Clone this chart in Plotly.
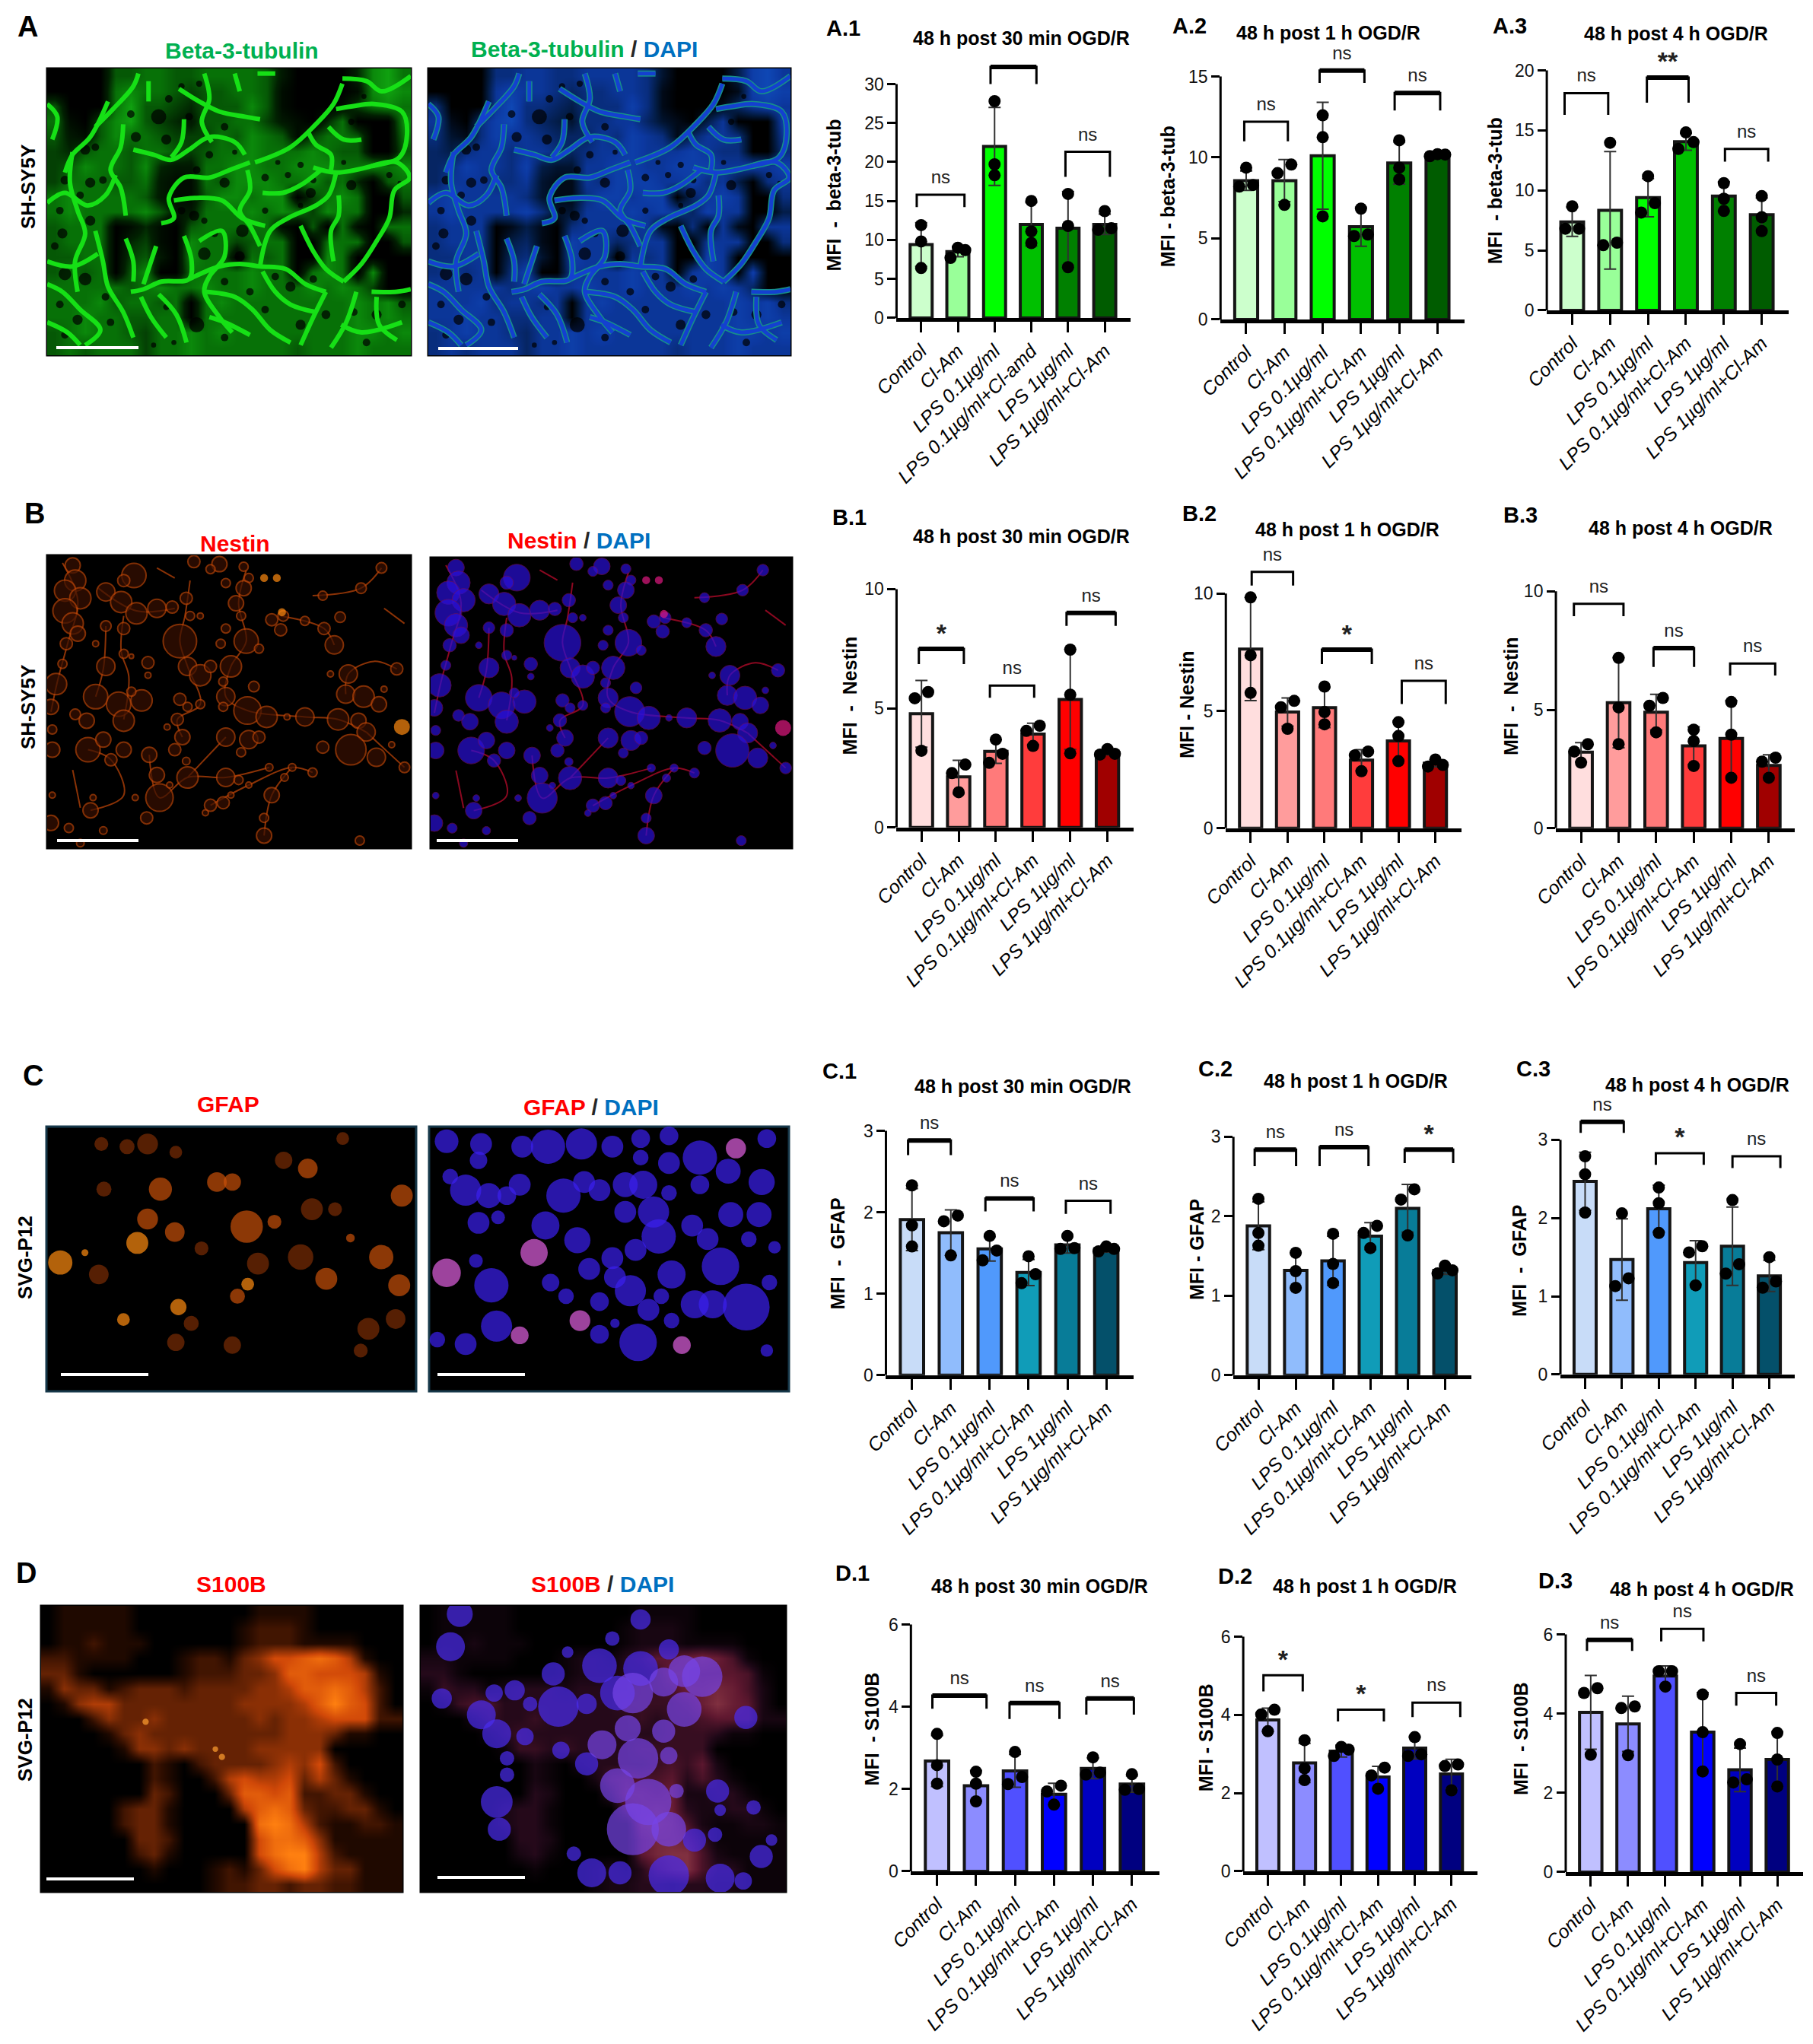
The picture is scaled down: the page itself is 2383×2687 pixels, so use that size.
import plotly.graph_objects as go

W, H = 2383, 2687
FONT = "Liberation Sans"
HEADROOM = 1.25

CATEGORIES = ["Control", "Cl-Am", "LPS 0.1µg/ml", "LPS 0.1µg/ml+Cl-Am", "LPS 1µg/ml", "LPS 1µg/ml+Cl-Am"]
CATEGORIES_A1 = ["Control", "Cl-Am", "LPS 0.1µg/ml", "LPS 0.1µg/ml+Cl-amd", "LPS 1µg/ml", "LPS 1µg/ml+Cl-Am"]

# values: mean, sd, the three replicates of each group
A1_MEAN = [9.4, 8.5, 22.0, 12.0, 11.5, 12.0]
A1_SD = [2.8, 0.65, 5.0, 2.8, 4.7, 1.3]
A1_POINTS = [[11.9, 9.8, 6.4], [9.0, 8.7, 7.7], [27.8, 19.7, 18.3], [15.0, 11.1, 9.6], [15.9, 11.8, 6.5], [13.7, 11.5, 11.3]]
A2_MEAN = [8.57, 8.57, 10.1, 5.72, 9.66, 10.14]
A2_SD = [0.6, 1.3, 3.3, 1.2, 1.3, 0.1]
A2_POINTS = [[9.37, 8.3, 8.2], [9.56, 9.03, 7.07], [12.6, 11.25, 6.36], [6.84, 5.24, 5.15], [11.06, 9.37, 8.64], [10.18, 10.2, 10.08]]
A3_MEAN = [7.37, 8.33, 9.39, 14.05, 9.52, 7.97]
A3_SD = [1.2, 4.9, 1.6, 0.7, 1.2, 1.4]
A3_POINTS = [[8.67, 6.8, 6.8], [13.97, 5.64, 5.43], [11.18, 8.93, 8.15], [14.83, 14.02, 13.45], [10.6, 9.3, 8.28], [9.52, 7.76, 6.6]]

B1_MEAN = [4.77, 2.12, 3.19, 3.92, 5.37, 3.15]
B1_SD = [1.4, 0.7, 0.5, 0.45, 2.1, 0.1]
B1_POINTS = [[5.68, 5.42, 3.22], [2.64, 2.28, 1.48], [3.69, 3.09, 2.71], [4.27, 4.05, 3.42], [7.46, 5.57, 3.11], [3.29, 3.09, 3.06]]
B2_MEAN = [7.64, 4.95, 5.14, 2.9, 3.72, 2.77]
B2_SD = [2.2, 0.6, 0.85, 0.45, 0.85, 0.15]
B2_POINTS = [[9.84, 7.37, 5.77], [5.43, 5.16, 4.24], [6.04, 4.95, 4.43], [3.27, 3.11, 2.43], [4.52, 3.93, 2.86], [2.93, 2.7, 2.63]]
B3_MEAN = [3.21, 5.3, 4.9, 3.48, 3.79, 2.65]
B3_SD = [0.4, 1.9, 0.75, 0.8, 1.6, 0.45]
B3_POINTS = [[3.55, 3.24, 2.77], [7.19, 5.1, 3.55], [5.5, 5.17, 4.05], [4.16, 3.68, 2.63], [5.33, 3.95, 2.13], [2.98, 2.81, 2.13]]

C1_MEAN = [1.91, 1.75, 1.55, 1.26, 1.6, 1.55]
C1_SD = [0.38, 0.28, 0.15, 0.16, 0.1, 0.04]
C1_POINTS = [[2.33, 1.84, 1.58], [1.96, 1.89, 1.47], [1.71, 1.53, 1.41], [1.46, 1.24, 1.13], [1.71, 1.56, 1.55], [1.58, 1.55, 1.52]]
C2_MEAN = [1.88, 1.32, 1.44, 1.75, 2.1, 1.32]
C2_SD = [0.3, 0.22, 0.31, 0.17, 0.3, 0.05]
C2_POINTS = [[2.22, 1.79, 1.63], [1.54, 1.31, 1.1], [1.78, 1.4, 1.16], [1.88, 1.79, 1.6], [2.34, 2.21, 1.76], [1.38, 1.32, 1.28]]
C3_MEAN = [2.47, 1.47, 2.12, 1.43, 1.64, 1.26]
C3_SD = [0.37, 0.52, 0.3, 0.28, 0.5, 0.2]
C3_POINTS = [[2.79, 2.56, 2.07], [2.06, 1.23, 1.13], [2.39, 2.19, 1.81], [1.64, 1.56, 1.14], [2.23, 1.41, 1.29], [1.5, 1.19, 1.11]]

D1_MEAN = [2.68, 2.08, 2.44, 1.87, 2.5, 2.12]
D1_SD = [0.62, 0.37, 0.4, 0.27, 0.25, 0.2]
D1_POINTS = [[3.34, 2.58, 2.13], [2.42, 2.13, 1.7], [2.9, 2.29, 2.12], [2.08, 1.94, 1.62], [2.77, 2.4, 2.35], [2.36, 2.0, 1.98]]
D2_MEAN = [3.87, 2.77, 3.07, 2.41, 3.15, 2.49]
D2_SD = [0.3, 0.5, 0.15, 0.27, 0.28, 0.37]
D2_POINTS = [[4.13, 4.01, 3.58], [3.35, 2.63, 2.33], [3.18, 3.11, 2.95], [2.65, 2.45, 2.11], [3.43, 2.99, 2.95], [2.73, 2.69, 2.07]]
D3_MEAN = [4.03, 3.74, 4.95, 3.53, 2.58, 2.84]
D3_SD = [0.93, 0.7, 0.25, 1.0, 0.55, 0.7]
D3_POINTS = [[4.64, 4.52, 2.96], [4.18, 4.14, 2.95], [5.07, 5.07, 4.68], [4.48, 3.53, 2.54], [3.23, 2.34, 2.26], [3.51, 2.84, 2.16]]

# significance brackets: left, right, top, foot, label, heavy top line
A1_BRACKETS = [(-0.12, 1.18, 15.8, 14.2, "ns", 0), (1.89, 3.14, 32.2, 30.0, "", 1), (3.93, 5.14, 21.3, 18.1, "ns", 0)]
A2_BRACKETS = [(-0.05, 1.09, 12.2, 11.0, "ns", 0), (1.92, 3.09, 15.36, 14.6, "ns", 1), (3.88, 5.07, 13.98, 12.9, "ns", 1)]
A3_BRACKETS = [(-0.2, 0.95, 18.1, 16.3, "ns", 0), (1.97, 3.07, 19.4, 17.3, "**", 1), (4.03, 5.17, 13.45, 12.4, "ns", 0)]
B1_BRACKETS = [(-0.07, 1.14, 7.49, 6.85, "*", 1), (1.84, 3.03, 5.95, 5.44, "ns", 0), (3.9, 5.22, 9.0, 8.46, "ns", 1)]
B2_BRACKETS = [(0.03, 1.15, 10.93, 10.34, "ns", 0), (1.93, 3.28, 7.61, 7.0, "*", 1), (4.09, 5.28, 6.28, 5.29, "ns", 0)]
B3_BRACKETS = [(-0.19, 1.13, 9.47, 8.95, "ns", 0), (1.93, 3.01, 7.6, 6.81, "ns", 1), (3.97, 5.17, 6.95, 6.45, "ns", 0)]
C1_BRACKETS = [(-0.1, 1.0, 2.88, 2.7, "ns", 1), (1.89, 3.13, 2.17, 2.01, "ns", 1), (3.96, 5.11, 2.14, 1.98, "ns", 0)]
C2_BRACKETS = [(-0.1, 1.01, 2.84, 2.63, "ns", 1), (1.64, 2.95, 2.87, 2.63, "ns", 1), (3.92, 5.22, 2.84, 2.67, "*", 1)]
C3_BRACKETS = [(-0.12, 1.05, 3.23, 3.09, "ns", 1), (1.92, 3.22, 2.83, 2.68, "*", 0), (4.0, 5.3, 2.79, 2.64, "ns", 0)]
D1_BRACKETS = [(-0.12, 1.27, 4.27, 3.95, "ns", 1), (1.86, 3.14, 4.09, 3.7, "ns", 1), (3.83, 5.05, 4.2, 3.81, "ns", 1)]
D2_BRACKETS = [(-0.12, 0.95, 5.01, 4.6, "*", 0), (1.91, 3.16, 4.13, 3.83, "*", 0), (3.94, 5.24, 4.31, 3.94, "ns", 0)]
D3_BRACKETS = [(-0.1, 1.11, 5.86, 5.58, "ns", 1), (1.89, 3.02, 6.14, 5.82, "ns", 0), (3.9, 4.97, 4.52, 4.2, "ns", 0)]

GREENS = ["#ccffcc", "#99ff99", "#00ff00", "#00c000", "#008000", "#005c00"]
REDS = ["#ffdede", "#ff9c9c", "#ff7a7a", "#ff3c3c", "#ff0000", "#a00000"]
TEALS = ["#c8dcf8", "#90bcfc", "#5099fc", "#109cb8", "#087c98", "#04506a"]
BLUES = ["#c0c0ff", "#8c8cff", "#5050ff", "#0000ff", "#0000c0", "#000080"]

# tag, title, y title, ymax, dtick, axis box in page px (left, right, top, bottom),
# tag xy, title xy, y title xy
PANELS = [
    ("A.1", "48 h post 30 min OGD/R", "MFI\u00a0\u00a0-\u00a0\u00a0beta-3-tub", 30, 5, (1179, 1488, 111, 420), (1109, 37), (1344, 50), (1096, 258), A1_MEAN, A1_SD, A1_POINTS, A1_BRACKETS, GREENS, CATEGORIES_A1),
    ("A.2", "48 h post 1 h OGD/R", "MFI - beta-3-tub", 15, 5, (1607, 1929, 101, 422), (1566, 34), (1749, 43), (1537, 260), A2_MEAN, A2_SD, A2_POINTS, A2_BRACKETS, GREENS, CATEGORIES),
    ("A.3", "48 h post 4 h OGD/R", "MFI\u00a0\u00a0-\u00a0beta-3-tub", 20, 5, (2038, 2357, 93, 410), (1989, 34), (2209, 44), (1969, 252), A3_MEAN, A3_SD, A3_POINTS, A3_BRACKETS, GREENS, CATEGORIES),
    ("B.1", "48 h post 30 min OGD/R", "MFI\u00a0\u00a0-\u00a0\u00a0Nestin", 10, 5, (1179, 1492, 775, 1090), (1117, 680), (1344, 705), (1117, 916), B1_MEAN, B1_SD, B1_POINTS, B1_BRACKETS, REDS, CATEGORIES),
    ("B.2", "48 h post 1 h OGD/R", "MFI - Nestin", 10, 5, (1614, 1925, 781, 1091), (1579, 675), (1775, 696), (1562, 927), B2_MEAN, B2_SD, B2_POINTS, B2_BRACKETS, REDS, CATEGORIES),
    ("B.3", "48 h post 4 h OGD/R", "MFI\u00a0\u00a0-\u00a0\u00a0Nestin", 10, 5, (2050, 2366, 778, 1091), (2003, 677), (2215, 694), (1990, 916), B3_MEAN, B3_SD, B3_POINTS, B3_BRACKETS, REDS, CATEGORIES),
    ("C.1", "48 h post 30 min OGD/R", "MFI\u00a0\u00a0-\u00a0\u00a0GFAP", 3, 1, (1165, 1492, 1487, 1810), (1104, 1408), (1346, 1428), (1101, 1649), C1_MEAN, C1_SD, C1_POINTS, C1_BRACKETS, TEALS, CATEGORIES),
    ("C.2", "48 h post 1 h OGD/R", "MFI - GFAP", 3, 1, (1624, 1938, 1495, 1810), (1600, 1405), (1786, 1421), (1575, 1644), C2_MEAN, C2_SD, C2_POINTS, C2_BRACKETS, TEALS, CATEGORIES),
    ("C.3", "48 h post 4 h OGD/R", "MFI\u00a0\u00a0-\u00a0\u00a0GFAP", 3, 1, (2056, 2366, 1499, 1809), (2020, 1405), (2237, 1426), (2001, 1659), C3_MEAN, C3_SD, C3_POINTS, C3_BRACKETS, TEALS, CATEGORIES),
    ("D.1", "48 h post 30 min OGD/R", "MFI\u00a0\u00a0-\u00a0S100B", 6, 2, (1198, 1526, 2136, 2462), (1121, 2068), (1368, 2085), (1146, 2274), D1_MEAN, D1_SD, D1_POINTS, D1_BRACKETS, BLUES, CATEGORIES),
    ("D.2", "48 h post 1 h OGD/R", "MFI - S100B", 6, 2, (1637, 1946, 2152, 2462), (1626, 2072), (1798, 2085), (1587, 2285), D2_MEAN, D2_SD, D2_POINTS, D2_BRACKETS, BLUES, CATEGORIES),
    ("D.3", "48 h post 4 h OGD/R", "MFI\u00a0\u00a0-\u00a0S100B", 6, 2, (2063, 2377, 2149, 2463), (2049, 2078), (2243, 2089), (2003, 2287), D3_MEAN, D3_SD, D3_POINTS, D3_BRACKETS, BLUES, CATEGORIES),
]
ROW_TOPS = {"A": 0, "B": 650, "C": 1380, "D": 2040}

# micrograph stand-ins: coarse brightness maps, 0-9, typed from the picture
A_MAP = [
    "000055665566665200003786",
    "000067665455665100001787",
    "500068554355575100014676",
    "610578543255664210360007",
    "521576654446576514665006",
    "435665665456676667655005",
    "457665732266776677766767",
    "466655621165777667563056",
    "676666521157767704676005",
    "676666752266676764766003",
    "566601310566666105061066",
    "566603410766456600666005",
    "556604520766065600760000",
    "565605700666676606760700",
    "666665676676676667676400",
    "666756656067666666667675",
    "667665566066666666667676",
    "567665466767666666667767",
    "565666466766666656667666",
]
D_MAP = [
    "011111000000001111000000",
    "011111000000012221000000",
    "011211100000012221111000",
    "221111000122134667875100",
    "331000000122233477666510",
    "143312333233334457787520",
    "014553333333344445797620",
    "000243343333334344566622",
    "000013433333333344431100",
    "000001443433334444400000",
    "000000021023333454620000",
    "000000021002565563531000",
    "000000032000377672233100",
    "000002331000057873223310",
    "000002331000008985211221",
    "000000332000006887411111",
    "000000231000006899521111",
    "000000010001213689533111",
    "000000000001223323322111",
]

# strands of the cell network, polylines in crop coordinates of the A pictures
A_STRANDS = [
    [(190, 230), (260, 160), (340, 70), (360, 20)],
    [(240, 130), (170, 270), (100, 340), (70, 410)],
    [(0, 140), (40, 190), (20, 280)],
    [(1165, 60), (1130, 140), (1060, 220), (960, 310), (820, 370)],
    [(1165, 40), (1260, 50), (1320, 90), (1435, 30)],
    [(1140, 160), (1200, 150), (1290, 140), (1400, 170), (1420, 260), (1390, 350), (1280, 385), (1140, 410), (1050, 390)],
    [(1110, 230), (1170, 280), (1240, 280)],
    [(1280, 385), (1380, 370), (1430, 430), (1370, 480), (1350, 590), (1300, 680), (1240, 770), (1170, 840)],
    [(1140, 410), (1110, 500), (1060, 540), (950, 590), (880, 640), (840, 780)],
    [(1080, 400), (1000, 460), (930, 490), (850, 490)],
    [(1000, 620), (1050, 720), (1100, 790), (1170, 840)],
    [(1150, 500), (1150, 580), (1120, 640), (1130, 760)],
    [(800, 370), (720, 400), (640, 430), (540, 430), (480, 510), (500, 590), (450, 610)],
    [(340, 320), (420, 340), (490, 360), (560, 320), (640, 270), (740, 290), (780, 340)],
    [(520, 80), (600, 130), (680, 170), (780, 190), (840, 200)],
    [(740, 20), (760, 90)],
    [(830, 20), (900, 20)],
    [(400, 50), (400, 130)],
    [(540, 200), (530, 290), (490, 350)],
    [(620, 20), (640, 120), (610, 210), (650, 290)],
    [(300, 220), (290, 310), (250, 400), (290, 470), (310, 580)],
    [(0, 530), (70, 490), (160, 540), (230, 500), (270, 420)],
    [(100, 330), (90, 450), (120, 560), (150, 650), (110, 760), (120, 880)],
    [(190, 640), (220, 760), (240, 860), (300, 960), (340, 1060)],
    [(0, 760), (100, 780), (200, 730)],
    [(0, 850), (60, 880), (130, 950), (210, 1030), (150, 1090)],
    [(540, 660), (570, 760), (560, 830), (450, 840), (380, 870), (330, 880)],
    [(310, 670), (340, 760), (340, 840)],
    [(430, 700), (400, 790), (380, 850)],
    [(600, 680), (690, 640), (700, 740), (640, 820), (620, 880), (680, 980), (730, 1040)],
    [(500, 520), (590, 510), (690, 520), (770, 590), (860, 620)],
    [(790, 400), (800, 480), (760, 560), (800, 620), (840, 700)],
    [(560, 830), (680, 780), (760, 770), (840, 780), (940, 790), (1020, 850), (1100, 880)],
    [(440, 890), (510, 970), (550, 1080)],
    [(620, 880), (740, 900), (810, 950), (880, 1030), (960, 1080)],
    [(1100, 880), (1050, 980), (1000, 1090)],
    [(1220, 880), (1180, 1000), (1120, 1100)],
    [(1280, 880), (1380, 880), (1435, 870)],
    [(1300, 900), (1310, 1010), (1380, 1070)],
    [(1160, 1010), (1240, 1040), (1400, 1000)],
    [(850, 800), (900, 880), (960, 930), (1060, 960)],
    [(640, 980), (700, 1000), (800, 1050)],
    [(370, 900), (410, 980), (470, 1060)],
    [(0, 1000), (80, 1040), (130, 1090)],
    [(1120, 400), (1120, 340), (1060, 300), (1030, 250)],
]
# small dark gaps in the mesh
A_GAPS = [
    (150, 320, 40), (190, 310, 30), (70, 440, 35), (170, 450, 40), (130, 500, 30), (220, 440, 30), (50, 560, 30), (170, 600, 40),
    (60, 650, 40), (30, 700, 30), (70, 810, 50), (150, 830, 50), (50, 930, 30), (120, 990, 40), (70, 1050, 30), (250, 1000, 30),
    (330, 180, 30), (440, 190, 60), (350, 270, 40), (470, 280, 40), (560, 190, 30), (700, 230, 30), (640, 340, 30), (740, 330, 20),
    (590, 400, 30), (700, 450, 40), (580, 580, 40), (530, 560, 30), (620, 600, 25), (770, 640, 50), (660, 650, 30), (620, 730, 50),
    (760, 740, 40), (700, 840, 30), (800, 880, 30), (900, 820, 30), (960, 860, 40), (1050, 830, 30), (860, 950, 30), (1000, 1010, 40),
    (1100, 970, 35), (1210, 960, 30), (1300, 970, 40), (1400, 930, 30), (1260, 1080, 30), (700, 1060, 30), (590, 1010, 60), (470, 940, 25),
    (500, 1080, 20), (420, 1090, 20), (230, 900, 30), (1040, 490, 40), (860, 430, 30), (950, 420, 25), (1050, 440, 25), (1200, 460, 40),
    (1170, 370, 20), (1200, 210, 25), (1250, 110, 20), (1350, 420, 25), (1390, 450, 15), (1000, 380, 25), (910, 370, 20), (860, 560, 25),
    (1000, 540, 20), (530, 70, 25), (600, 60, 25), (480, 120, 30),
]
B_STRANDS = [
    [(60, 30), (120, 180), (80, 350), (40, 500), (15, 620)],
    [(200, 130), (350, 220), (500, 210)],
    [(300, 240), (290, 380), (320, 480), (300, 650)],
    [(230, 280), (220, 450), (190, 560)],
    [(560, 100), (540, 240), (520, 340), (550, 440), (600, 590), (510, 650), (530, 720)],
    [(780, 60), (750, 190), (780, 340), (720, 440), (700, 560), (785, 615), (1010, 640), (1140, 650), (1250, 700)],
    [(915, 240), (1085, 290), (1125, 355)],
    [(1170, 550), (1180, 470), (1280, 420), (1370, 450)],
    [(400, 790), (440, 960), (550, 880), (700, 880), (870, 840)],
    [(160, 770), (250, 810), (300, 950), (170, 1010)],
    [(700, 720), (550, 880)],
    [(640, 990), (790, 910), (960, 840), (1040, 860)],
    [(960, 840), (880, 950), (850, 1110)],
    [(1250, 700), (1400, 840)],
    [(1040, 160), (1230, 130), (1310, 50)],
    [(1320, 210), (1400, 270)],
    [(100, 850), (130, 1000)],
    [(430, 50), (500, 90)],
]

# cell bodies: x, y, diameter, in crop coordinates
B_CELLS = [
    (100, 40, 50), (110, 100, 70), (70, 140, 70), (130, 170, 70), (70, 220, 80), (100, 270, 70), (120, 310, 50), (75, 350, 40),
    (60, 430, 30), (35, 510, 70), (15, 600, 50), (20, 690, 30), (20, 770, 50), (340, 80, 80), (300, 100, 40), (230, 145, 60),
    (290, 185, 70), (350, 230, 70), (430, 210, 60), (490, 205, 40), (545, 170, 40), (575, 25, 40), (675, 35, 50), (640, 55, 30),
    (770, 45, 30), (790, 90, 30), (700, 110, 30), (770, 130, 50), (740, 190, 50), (760, 240, 30), (925, 240, 35), (880, 255, 40),
    (915, 295, 40), (1010, 260, 30), (1085, 290, 40), (1125, 355, 60), (1148, 245, 35), (1230, 130, 35), (1080, 160, 30),
    (1310, 50, 35), (520, 340, 110), (300, 290, 40), (230, 280, 35), (190, 350, 20), (300, 390, 30), (230, 440, 60), (395, 425, 40),
    (395, 475, 20), (550, 440, 60), (600, 475, 70), (640, 440, 40), (720, 440, 70), (690, 500, 30), (810, 520, 35), (700, 560, 60),
    (690, 600, 30), (780, 340, 80), (830, 370, 30), (680, 350, 30), (700, 290, 30), (560, 240, 30), (600, 240, 20), (330, 400, 15),
    (190, 560, 80), (280, 590, 80), (370, 575, 70), (330, 540, 30), (300, 655, 70), (110, 630, 35), (155, 655, 50), (520, 570, 40),
    (600, 590, 30), (550, 600, 30), (510, 650, 40), (470, 680, 20), (785, 615, 90), (860, 640, 70), (1010, 640, 60), (940, 640, 20),
    (1140, 650, 70), (1220, 655, 50), (1180, 470, 60), (1110, 470, 20), (1170, 550, 60), (1240, 560, 70), (1300, 590, 50),
    (1320, 530, 20), (1370, 450, 40), (1250, 700, 60), (1190, 770, 100), (1290, 800, 60), (1080, 760, 40), (1350, 750, 20),
    (1400, 840, 35), (1040, 860, 30), (960, 840, 25), (160, 770, 80), (220, 730, 50), (250, 810, 40), (300, 770, 50), (400, 790, 50),
    (430, 870, 50), (440, 960, 90), (530, 720, 50), (500, 770, 40), (700, 720, 60), (790, 730, 60), (830, 720, 40), (760, 780, 30),
    (550, 880, 70), (480, 910, 20), (545, 815, 25), (700, 880, 60), (750, 890, 30), (790, 910, 20), (870, 840, 25), (640, 990, 40),
    (690, 980, 40), (720, 950, 20), (170, 1010, 50), (180, 960, 20), (15, 1060, 50), (85, 1080, 30), (390, 1040, 40), (345, 960, 20),
    (880, 950, 50), (930, 880, 25), (850, 1040, 30), (850, 1110, 50), (1225, 1130, 30), (20, 950, 20), (130, 1140, 25), (220, 1090, 25),
    (620, 1020, 20),
]
B_HOT_CELLS = [(850, 90, 35), (900, 90, 35), (920, 225, 35), (1390, 680, 70)]
C_NUCLEI = [
    (868, 165, 38), (935, 170, 35), (930, 200, 28), (875, 230, 25), (905, 255, 50), (950, 265, 40), (1010, 245, 35),
    (985, 265, 30), (1015, 175, 35), (1065, 175, 55), (1130, 170, 50), (1190, 175, 35), (1245, 160, 30), (1300, 155, 30),
    (1360, 195, 55), (1490, 160, 30), (1095, 265, 55), (1135, 240, 35), (1165, 255, 35), (1215, 245, 40), (1250, 245, 45),
    (1300, 205, 35), (1245, 195, 25), (1415, 220, 40), (1480, 240, 42), (1360, 245, 30), (1300, 260, 25), (1215, 295, 35),
    (1270, 295, 50), (1280, 340, 55), (1345, 320, 35), (1420, 300, 40), (1475, 300, 40), (1060, 320, 45), (930, 315, 35),
    (968, 305, 22), (1122, 347, 42), (1190, 380, 35), (1235, 365, 35), (1400, 395, 60), (1455, 345, 25), (1505, 360, 20),
    (1375, 345, 35), (925, 385, 22), (955, 430, 55), (1070, 425, 28), (1100, 450, 25), (1145, 400, 35), (1195, 415, 35),
    (1225, 440, 50), (1305, 410, 45), (1285, 450, 25), (1165, 460, 30), (1260, 475, 35), (1305, 495, 25), (1350, 465, 45),
    (1385, 465, 45), (1450, 470, 75), (1495, 425, 25), (965, 505, 50), (1165, 520, 30), (1240, 535, 60), (905, 538, 35),
    (850, 530, 25), (1490, 550, 20), (1195, 500, 15),
]
C_BRIGHT_NUCLEI = [(868, 407, 48), (1430, 178, 34), (1127, 495, 35), (1325, 540, 30), (1010, 522, 30), (1038, 370, 46)]
C_SPOTS_HOT = [(115, 388, 42), (345, 470, 28), (238, 493, 22), (480, 428, 22), (163, 370, 12), (265, 352, 38)]
C_SPOTS_MID = [(338, 332, 34), (285, 308, 36), (310, 253, 40), (420, 240, 34), (450, 240, 30), (597, 215, 34), (478, 322, 56),
               (532, 313, 24), (680, 343, 15), (740, 378, 42), (633, 418, 38), (460, 450, 26), (775, 430, 38), (780, 265, 38)]
C_SPOTS_DIM = [(605, 290, 38), (650, 290, 24), (583, 378, 44), (768, 492, 34), (715, 510, 38), (500, 390, 38), (450, 540, 30),
               (700, 550, 24), (285, 170, 36), (390, 362, 24), (200, 253, 26), (190, 410, 34), (340, 535, 30), (195, 170, 24),
               (550, 200, 30), (340, 185, 22), (370, 500, 26), (245, 175, 26), (665, 160, 22)]
D_DOTS = [(415, 458, 25), (692, 566, 22), (718, 597, 25)]
D_NUCLEI = [
    (893, 1025, 45), (875, 1085, 50), (858, 1180, 35), (1103, 1095, 20), (1075, 1135, 40), (960, 1170, 30), (1000, 1165, 35),
    (1030, 1190, 25), (935, 1210, 50), (1085, 1195, 70), (1165, 1120, 60), (1200, 1170, 60), (1245, 1125, 60), (1300, 1090, 35),
    (1245, 1035, 35), (1190, 1070, 25), (965, 1245, 50), (1020, 1250, 30), (1140, 1190, 35), (1450, 1215, 40), (1090, 1275, 30),
    (1140, 1300, 40), (985, 1290, 25), (985, 1320, 25), (965, 1370, 55), (970, 1420, 40), (1395, 1350, 40), (1400, 1385, 20),
    (1465, 1380, 25), (1115, 1465, 25), (1150, 1500, 50), (1205, 1500, 40), (1480, 1470, 40), (1445, 1515, 30), (1400, 1510, 50),
    (1300, 1505, 70), (1500, 1440, 20), (1350, 1440, 40), (1390, 1430, 25),
]
D_PALE_NUCLEI = [(1330, 1130, 55), (1365, 1140, 70), (1290, 1150, 50), (1230, 1170, 70), (1330, 1200, 60), (1220, 1235, 45),
                 (1290, 1240, 40), (1170, 1265, 50), (1240, 1290, 70), (1300, 1285, 30), (1200, 1340, 60), (1260, 1370, 80),
                 (1315, 1350, 25), (1230, 1420, 90), (1300, 1420, 60)]


def px_x(x):
    return x / W


def px_y(y):
    return 1 - y / H


def add_text(annotations, x, y, text, size, color="black", bold=True, angle=0):
    annotations.append(dict(
        x=px_x(x), y=px_y(y), xref="paper", yref="paper", text=f"<b>{text}</b>" if bold else text,
        showarrow=False, xanchor="center", yanchor="middle", textangle=angle,
        font=dict(family=FONT, size=size, color=color),
    ))


def swarm(values, near):
    # spread replicates sideways when they would sit on top of each other
    order = sorted(range(3), key=lambda i: values[i])
    offsets = [0.0, 0.0, 0.0]
    gaps = [values[order[1]] - values[order[0]], values[order[2]] - values[order[1]]]
    if gaps[0] < near and gaps[1] < near:
        offsets[order[0]], offsets[order[1]], offsets[order[2]] = -0.2, 0.2, 0.0
    elif gaps[0] < near:
        offsets[order[0]], offsets[order[1]] = -0.18, 0.18
    elif gaps[1] < near:
        offsets[order[1]], offsets[order[2]] = -0.18, 0.18
    return offsets


fig = go.Figure()
annotations, shapes, axes = [], [], {}
axis_n = 0


def new_axes(left, right, top, bottom):
    global axis_n
    axis_n += 1
    suffix = "" if axis_n == 1 else str(axis_n)
    x_key, y_key = f"xaxis{suffix}", f"yaxis{suffix}"
    axes[x_key] = dict(domain=[px_x(left), px_x(right)], anchor=f"y{suffix}", automargin=False)
    axes[y_key] = dict(domain=[px_y(bottom), px_y(top)], anchor=f"x{suffix}", automargin=False)
    return f"x{suffix}", f"y{suffix}", x_key, y_key


def draw_panel(panel):
    tag, title, ytitle, ymax, dtick, box, tag_xy, title_xy, ytitle_xy, mean, sd, points, brackets, colors, labels = panel
    row_top = ROW_TOPS[tag[0]]
    adj_x = lambda v: 1060 + (v - 1060) * 0.995
    adj_y = lambda v: row_top + (v - row_top) * 0.995
    left_px, right_px, top_px, bottom_px = adj_x(box[0]), adj_x(box[1]), adj_y(box[2]), adj_y(box[3])
    axis_h = bottom_px - top_px
    # the plot area runs past the top tick so brackets above it stay drawn
    xref, yref, x_key, y_key = new_axes(left_px, right_px, bottom_px - axis_h * HEADROOM, bottom_px)
    xs = list(range(6))
    fig.add_trace(go.Bar(
        x=xs, y=mean, width=0.6, marker=dict(color=colors, line=dict(color="#151515", width=4)),
        error_y=dict(type="data", array=sd, symmetric=True, color="#303030", thickness=2, width=8),
        xaxis=xref, yaxis=yref, showlegend=False,
    ))
    px, py = [], []
    for i, reps in enumerate(points):
        for off, val in zip(swarm(reps, ymax * 0.045), reps):
            px.append(i + off)
            py.append(val)
    fig.add_trace(go.Scatter(x=px, y=py, mode="markers", marker=dict(color="black", size=16),
                             xaxis=xref, yaxis=yref, showlegend=False))
    bx, by, hx, hy, lx, ly, lt, ls = [], [], [], [], [], [], [], []
    for left, right, top, foot, label, heavy in brackets:
        bx += [left, left, right, right, None]
        by += [foot, top, top, foot, None]
        if heavy:
            hx += [left, right, None]
            hy += [top, top, None]
        if label:
            is_ns = label == "ns"
            lx.append((left + right) / 2)
            ly.append(top + (21 if is_ns else 18) / axis_h * ymax)
            lt.append(label if is_ns else f"<b>{label}</b>")
            ls.append(24 if is_ns else 34)
    fig.add_trace(go.Scatter(x=bx, y=by, mode="lines", line=dict(color="black", width=3), xaxis=xref, yaxis=yref, showlegend=False))
    if hx:
        fig.add_trace(go.Scatter(x=hx, y=hy, mode="lines", line=dict(color="black", width=6), xaxis=xref, yaxis=yref, showlegend=False))
    fig.add_trace(go.Scatter(x=lx, y=ly, mode="text", text=lt, textposition="middle center",
                             textfont=dict(family=FONT, size=ls, color="#222222"), xaxis=xref, yaxis=yref, showlegend=False))
    axes[x_key].update(range=[-0.67, 5.7], tickvals=xs, ticktext=labels, tickangle=-45, ticks="outside", ticklen=14,
                       tickwidth=3, tickcolor="black", showline=True, linewidth=5, linecolor="black", showgrid=False,
                       zeroline=False, tickfont=dict(family=FONT, size=25, color="black", style="italic"))
    axes[y_key].update(range=[0, ymax * HEADROOM], tickvals=list(range(0, ymax + 1, dtick)), ticks="outside", ticklen=11,
                       tickwidth=3, tickcolor="black", showline=False, showgrid=False, zeroline=False,
                       tickfont=dict(family=FONT, size=23, color="#111111"))
    shapes.append(dict(type="line", xref=f"{xref} domain", yref=yref, x0=0, x1=0, y0=0, y1=ymax, line=dict(color="black", width=3)))
    add_text(annotations, adj_x(tag_xy[0]), adj_y(tag_xy[1]), tag, 29)
    add_text(annotations, adj_x(title_xy[0]), adj_y(title_xy[1]), title, 25)
    add_text(annotations, adj_x(ytitle_xy[0]), adj_y(ytitle_xy[1]), ytitle, 25, angle=-90)


def frame(box, border="black"):
    shapes.append(dict(type="rect", xref="paper", yref="paper", x0=px_x(box[0]), x1=px_x(box[1]), y0=px_y(box[3]),
                       y1=px_y(box[2]), fillcolor="black", line=dict(color=border, width=3), layer="below"))


def scale_bar(x0, x1, y):
    shapes.append(dict(type="line", xref="paper", yref="paper", x0=px_x(x0), x1=px_x(x1), y0=px_y(y), y1=px_y(y),
                       line=dict(color="white", width=4)))


def image_axes(box, crop):
    # crop = left, right, top, bottom of the picture in crop coordinates
    xref, yref, x_key, y_key = new_axes(*box)
    axes[x_key].update(range=[crop[0], crop[1]], visible=False)
    axes[y_key].update(range=[crop[3], crop[2]], visible=False)
    return xref, yref


def add_map(xref, yref, grid, crop, scale, zmax=9):
    rows = [[int(c) for c in row] for row in grid]
    dx = (crop[1] - crop[0]) / len(rows[0])
    dy = (crop[3] - crop[2]) / len(rows)
    fig.add_trace(go.Heatmap(z=rows, x0=crop[0] + dx / 2, dx=dx, y0=crop[2] + dy / 2, dy=dy, zmin=0, zmax=zmax,
                             colorscale=scale, showscale=False, zsmooth="best", hoverinfo="skip", xaxis=xref, yaxis=yref))


def add_strands(xref, yref, strands, color, width):
    xs, ys = [], []
    for line in strands:
        xs += [p[0] for p in line] + [None]
        ys += [p[1] for p in line] + [None]
    fig.add_trace(go.Scatter(x=xs, y=ys, mode="lines", line=dict(color=color, width=width, shape="spline"),
                             xaxis=xref, yaxis=yref, showlegend=False, hoverinfo="skip"))


def add_blobs(xref, yref, blobs, color, scale_px, edge=None, edge_width=0):
    fig.add_trace(go.Scatter(x=[b[0] for b in blobs], y=[b[1] for b in blobs], mode="markers",
                             marker=dict(color=color, size=[b[2] * scale_px for b in blobs],
                                         line=dict(width=edge_width, color=edge or color)),
                             xaxis=xref, yaxis=yref, showlegend=False, hoverinfo="skip"))


# A row
A_GREEN = [[0, "#000000"], [0.3, "#012001"], [0.7, "#087808"], [1, "#14b814"]]
A_BLUE = [[0, "#000000"], [0.3, "#021a40"], [0.7, "#0c38a0"], [1, "#1050c0"]]
crop = (0, 1435, 0, 1130)
frame((62, 540, 90, 467))
x, y = image_axes((62, 540, 90, 467), crop)
add_map(x, y, A_MAP, crop, A_GREEN)
add_blobs(x, y, A_GAPS, "#000000", 0.33)
add_strands(x, y, A_STRANDS, "#16e016", 6)
scale_bar(74, 182, 457)
frame((563, 1039, 90, 467))
x, y = image_axes((563, 1039, 90, 467), crop)
add_map(x, y, A_MAP, crop, A_BLUE)
add_blobs(x, y, A_GAPS, "#000000", 0.33)
add_strands(x, y, A_STRANDS, "#169088", 8)
add_strands(x, y, A_STRANDS, "#1440d0", 5)
scale_bar(576, 681, 458)

# B row
crop = (0, 1425, 0, 1160)
frame((62, 540, 730, 1115))
x, y = image_axes((62, 540, 730, 1115), crop)
add_strands(x, y, B_STRANDS, "#8a3206", 2)
add_blobs(x, y, B_CELLS, "#3a1002", 0.4, "#b84408", 2)
add_blobs(x, y, B_HOT_CELLS, "#ff8a10", 0.3)
scale_bar(75, 182, 1105)
frame((566, 1041, 733, 1115))
x, y = image_axes((566, 1041, 733, 1115), crop)
add_strands(x, y, B_STRANDS, "#8a0820", 2)
add_blobs(x, y, B_CELLS, "#2a10d8", 0.44, "#70105c", 1)
add_blobs(x, y, B_HOT_CELLS, "#e01880", 0.3)
scale_bar(574, 681, 1105)

# C row
crop = (88, 808, 138, 625)
frame((61, 547, 1481, 1829), "#16384a")
x, y = image_axes((61, 547, 1481, 1829), crop)
add_blobs(x, y, C_SPOTS_DIM, "#7a2c04", 0.76)
add_blobs(x, y, C_SPOTS_MID, "#c85008", 0.76)
add_blobs(x, y, C_SPOTS_HOT, "#ff8c10", 0.76)
scale_bar(80, 195, 1807)
crop = (834, 1533, 138, 625)
frame((564, 1037, 1481, 1829), "#16384a")
x, y = image_axes((564, 1037, 1481, 1829), crop)
add_blobs(x, y, C_NUCLEI, "#3b1ff0", 0.82)
add_blobs(x, y, C_BRIGHT_NUCLEI, "#e060e0", 0.78)
scale_bar(575, 690, 1807)

# D row
D_ORANGE = [[0, "#000000"], [0.15, "#2a0c00"], [0.35, "#6a2404"], [0.65, "#d04808"], [1, "#ff8010"]]
D_HAZE = [[0, "#000000"], [0.3, "#200818"], [0.7, "#601830"], [1, "#803040"]]
crop = (0, 1435, 0, 1130)
frame((54, 529, 2111, 2487))
x, y = image_axes((54, 529, 2111, 2487), crop)
add_map(x, y, D_MAP, crop, D_ORANGE)
add_blobs(x, y, D_DOTS, "#ffa030", 0.33)
scale_bar(61, 176, 2470)
crop = (817, 1528, 1010, 1535)
frame((553, 1033, 2111, 2487))
x, y = image_axes((553, 1033, 2111, 2487), crop)
add_map(x, y, D_MAP, crop, D_HAZE)
add_blobs(x, y, D_NUCLEI, "#4a2cf0", 0.76)
add_blobs(x, y, D_PALE_NUCLEI, "#7644e8", 0.76)
scale_bar(575, 690, 2468)

for panel in PANELS:
    draw_panel(panel)

add_text(annotations, 36, 35, "A", 38)
add_text(annotations, 46, 675, "B", 38)
add_text(annotations, 43, 1414, "C", 38)
add_text(annotations, 34, 2068, "D", 38)
add_text(annotations, 37, 246, "SH-SY5Y", 26, angle=-90)
add_text(annotations, 37, 930, "SH-SY5Y", 26, angle=-90)
add_text(annotations, 33, 1653, "SVG-P12", 26, angle=-90)
add_text(annotations, 33, 2287, "SVG-P12", 26, angle=-90)


def span(text, color):
    return f"<span style='color:{color}'>{text}</span>"


GREEN_TXT, RED_TXT, BLUE_TXT, SLASH = "#00b050", "#ff0000", "#0070c0", "#262626"
add_text(annotations, 318, 67, span("Beta-3-tubulin", GREEN_TXT), 30)
add_text(annotations, 768, 64, span("Beta-3-tubulin", GREEN_TXT) + span(" / ", SLASH) + span("DAPI", BLUE_TXT), 30)
add_text(annotations, 309, 714, span("Nestin", RED_TXT), 30)
add_text(annotations, 761, 710, span("Nestin", RED_TXT) + span(" / ", SLASH) + span("DAPI", BLUE_TXT), 30)
add_text(annotations, 300, 1451, span("GFAP", RED_TXT), 30)
add_text(annotations, 777, 1455, span("GFAP", RED_TXT) + span(" / ", SLASH) + span("DAPI", BLUE_TXT), 30)
add_text(annotations, 304, 2082, span("S100B", RED_TXT), 30)
add_text(annotations, 792, 2082, span("S100B", RED_TXT) + span(" / ", SLASH) + span("DAPI", BLUE_TXT), 30)

fig.update_layout(
    width=W, height=H, margin=dict(l=0, r=0, t=0, b=0), paper_bgcolor="white", plot_bgcolor="rgba(0,0,0,0)",
    showlegend=False, annotations=annotations, shapes=shapes, font=dict(family=FONT), **axes,
)

fig.write_html("out.html", config={"displayModeBar": False}, post_script="document.body.style.margin='0';")
